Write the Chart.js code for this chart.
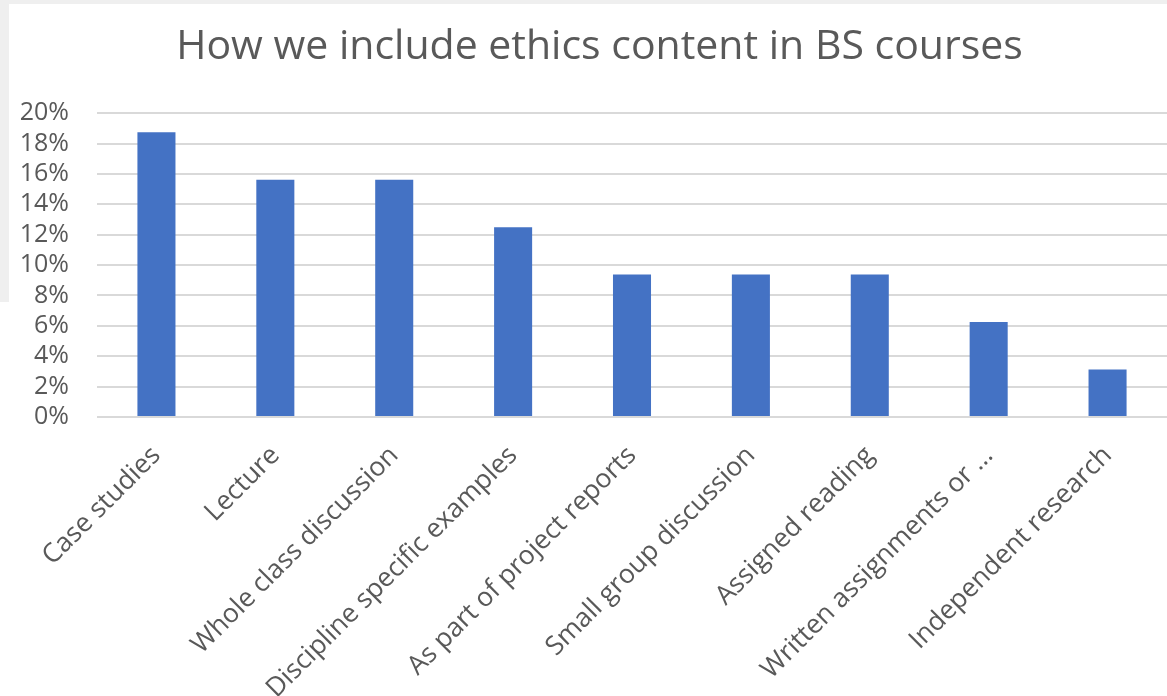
<!DOCTYPE html>
<html>
<head>
<meta charset="utf-8">
<script src="https://cdn.jsdelivr.net/npm/chart.js@4"></script>
<style>
  html, body { margin: 0; padding: 0; background: #ffffff; width: 1167px; height: 696px; overflow: hidden; }
  #topband { position: absolute; left: 0; top: 0; width: 1167px; height: 4px; background: #efefef; }
  #leftband { position: absolute; left: 0; top: 0; width: 9px; height: 302px; background: #efefef; }
  #wrap { position: absolute; left: 0; top: 0; width: 1167px; height: 696px; }
</style>
</head>
<body>
<div id="topband"></div>
<div id="leftband"></div>
<div id="wrap"><canvas id="c" width="1167" height="696"></canvas></div>
<script>
const titleText = "How we include ethics content in BS courses";
const categories = [
  "Case studies",
  "Lecture",
  "Whole class discussion",
  "Discipline specific examples",
  "As part of project reports",
  "Small group discussion",
  "Assigned reading",
  "Written assignments or \u2026",
  "Independent research"
];
const percentValues = [18.75, 15.625, 15.625, 12.5, 9.375, 9.375, 9.375, 6.25, 3.125];
const yTicks = [0, 2, 4, 6, 8, 10, 12, 14, 16, 18, 20];

const textColor = "#595959";
const fontFamily = "'Open Sans', 'Liberation Sans', sans-serif";

const shiftTitle = {
  id: "shiftTitle",
  afterLayout(chart) {
    const t = chart.titleBlock;
    if (t) { t.left += 16; t.right += 16; }
  }
};

new Chart(document.getElementById("c"), {
  type: "bar",
  data: {
    labels: categories,
    datasets: [{
      data: percentValues,
      backgroundColor: "#4472C4",
      borderWidth: 0,
      barPercentage: 0.32,
      categoryPercentage: 1.0
    }]
  },
  plugins: [shiftTitle],
  options: {
    responsive: false,
    animation: false,
    devicePixelRatio: 1,
    layout: { padding: { top: 0, right: 0, bottom: 0, left: 0 } },
    plugins: {
      legend: { display: false },
      tooltip: { enabled: false },
      title: {
        display: true,
        text: titleText,
        color: textColor,
        font: { family: fontFamily, size: 41, weight: "normal" },
        padding: { top: 23, bottom: 41 }
      }
    },
    scales: {
      x: {
        grid: { display: false, drawTicks: false },
        border: { display: false },
        ticks: {
          color: textColor,
          font: { family: fontFamily, size: 26.5 },
          maxRotation: 45,
          minRotation: 45,
          autoSkip: false,
          padding: 23
        },
        afterFit: (s) => { s.height = 279; }
      },
      y: {
        min: 0,
        max: 20,
        afterBuildTicks: (s) => { s.ticks = yTicks.map(v => ({ value: v })); },
        grid: { color: "#d9d9d9", lineWidth: 2, drawTicks: false },
        border: { display: false },
        ticks: {
          color: textColor,
          font: { family: fontFamily, size: 25 },
          padding: 28,
          autoSkip: false,
          callback: (v) => v + "%"
        },
        afterFit: (s) => { s.width = 97; }
      }
    }
  }
});
</script>
</body>
</html>
